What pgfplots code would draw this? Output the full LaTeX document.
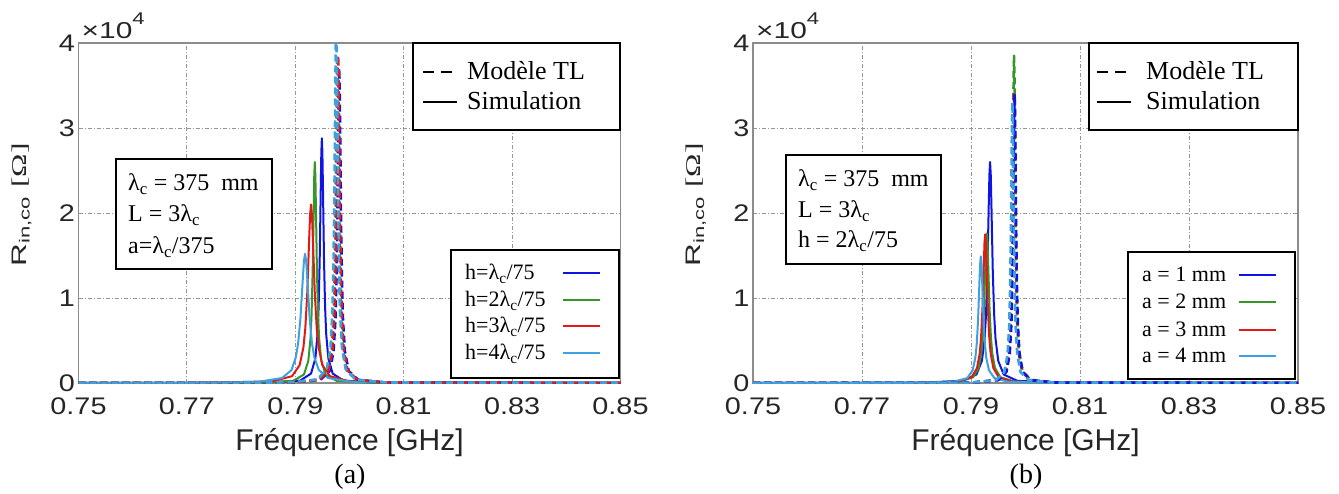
\documentclass[border=0pt]{standalone}
\usepackage{fontspec}
\usepackage{graphicx}
\usepackage{pgfplots}
\pgfplotsset{compat=1.18}
\setmainfont{Liberation Serif}
\newfontfamily\arial{Liberation Sans}
\newfontfamily\tickfont[FakeStretch=1.2]{Liberation Sans}
\newfontfamily\sclfont[FakeStretch=1.3]{Liberation Sans}
\definecolor{cB}{RGB}{15,20,225}
\definecolor{cG}{RGB}{55,150,40}
\definecolor{cR}{RGB}{225,25,25}
\definecolor{cL}{RGB}{60,160,225}
\definecolor{axg}{RGB}{140,140,140}
\definecolor{grg}{RGB}{150,150,150}
\definecolor{tkg}{RGB}{38,38,38}
\newcommand{\lc}{λ\textsubscript{c}}
\pgfplotsset{
  myaxis/.style={
    scale only axis, height=340pt, anchor=south west,
    xmin=0.75, xmax=0.85, ymin=0, ymax=40000,
    xtick={0.75,0.77,0.79,0.81,0.83,0.85},
    ytick={0,10000,20000,30000,40000},
    scaled x ticks=false,
    scaled y ticks=base 10:-4,
    x tick label style={/pgf/number format/fixed, /pgf/number format/fixed zerofill, /pgf/number format/precision=2, yshift=-11pt},
    /pgf/number format/assume math mode=true,
    tick label style={font=\tickfont\fontsize{24}{24}\selectfont, text=tkg},
    major tick length=0pt,
    grid=major,
    major grid style={grg, line width=0.9pt, dash pattern=on 4pt off 2pt on 1pt off 2pt},
    axis line style={axg, line width=1.3pt},
    ytick scale label code/.code={\sclfont\fontsize{23}{23}\selectfont ×10\raisebox{0.58em}{\fontsize{17}{17}\selectfont 4}},
    every y tick scale label/.style={at={(axis description cs:0,1)}, anchor=base west, inner sep=0pt, xshift=3pt, yshift=5pt, text=tkg},
    xlabel={Fréquence [GHz]},
    every axis x label/.style={at={(axis description cs:0.5,0)}, anchor=base, yshift=-67pt, font=\arial\fontsize{30}{30}\selectfont, text=tkg},
    ylabel={\scalebox{1.5}[1]{R\textsubscript{in,co} {\rmfamily[Ω]}}},
    every axis y label/.style={at={(axis description cs:0,0.5)}, xshift=-52.5pt, yshift=8pt, rotate=90, anchor=base, font=\arial\fontsize{21}{21}\selectfont, text=tkg},
    clip=true,
  },
  sol/.style={line width=2pt, line join=round},
  das/.style={line width=2.6pt, line join=round, dash pattern=on 7pt off 4pt},
}
\begin{document}
\begin{tikzpicture}
\useasboundingbox (0pt,0pt) rectangle (1339pt,493pt);
% ---------------- panel (a)
\begin{axis}[myaxis, width=542pt, at={(78.5pt,110pt)}]
\addplot[sol, cB] coordinates {(0.75,2) (0.7849,46) (0.7909,285) (0.7929,1108) (0.7937,2880) (0.7941,5760) (0.7943,8862) (0.7945,14400) (0.7947,23040) (0.7948,27100) (0.7949,28800) (0.795,27100) (0.7951,23040) (0.7953,14400) (0.7955,8862) (0.7957,5760) (0.7961,2880) (0.7969,1108) (0.7989,285) (0.8049,46) (0.85,2)};
\addplot[sol, cG] coordinates {(0.75,2) (0.7836,42) (0.7896,257) (0.7916,1000) (0.7924,2600) (0.7928,5200) (0.793,8000) (0.7932,13000) (0.7934,20800) (0.7935,24470) (0.7936,26000) (0.7937,24470) (0.7938,20800) (0.794,13000) (0.7942,8000) (0.7944,5200) (0.7948,2600) (0.7956,1000) (0.7976,257) (0.8036,42) (0.85,1)};
\addplot[sol, cR] coordinates {(0.75,6) (0.7754,34) (0.7859,208) (0.7894,808) (0.7908,2100) (0.7915,4200) (0.79185,6462) (0.7922,10500) (0.79255,16800) (0.792725,19765) (0.7929,21000) (0.793075,19765) (0.79325,16800) (0.7936,10500) (0.79395,6462) (0.7943,4200) (0.795,2100) (0.7964,808) (0.7999,208) (0.8104,34) (0.85,3)};
\addplot[sol, cL] coordinates {(0.75,6) (0.77055,24) (0.7833,150) (0.78755,585) (0.7893,1520) (0.7901,3040) (0.790525,4677) (0.79095,7600) (0.791375,12160) (0.791588,14306) (0.7918,15200) (0.792013,14306) (0.792225,12160) (0.79265,7600) (0.793075,4677) (0.7935,3040) (0.79435,1520) (0.79605,585) (0.8003,150) (0.81305,24) (0.85,3)};
\addplot[das, cB] coordinates {(0.75,2) (0.78935,59) (0.7946,366) (0.79635,1423) (0.79705,3700) (0.7974,7400) (0.797575,11385) (0.79775,18500) (0.797925,29600) (0.798013,34824) (0.7981,37000) (0.798188,34824) (0.798275,29600) (0.79845,18500) (0.798625,11385) (0.7988,7400) (0.79915,3700) (0.79985,1423) (0.8016,366) (0.80685,59) (0.85,2)};
\addplot[das, cG] coordinates {(0.75,2) (0.789,61) (0.79425,376) (0.796,1462) (0.7967,3800) (0.79705,7600) (0.797225,11692) (0.7974,19000) (0.797575,30400) (0.797663,35765) (0.79775,38000) (0.797838,35765) (0.797925,30400) (0.7981,19000) (0.798275,11692) (0.79845,7600) (0.7988,3800) (0.7995,1462) (0.80125,376) (0.8065,61) (0.85,2)};
\addplot[das, cR] coordinates {(0.75,2) (0.78915,62) (0.7944,381) (0.79615,1481) (0.79685,3850) (0.7972,7700) (0.797375,11846) (0.79755,19250) (0.797725,30800) (0.797813,36235) (0.7979,38500) (0.797988,36235) (0.798075,30800) (0.79825,19250) (0.798425,11846) (0.7986,7700) (0.79895,3850) (0.79965,1481) (0.8014,381) (0.80665,62) (0.85,2)};
\addplot[das, cL] coordinates {(0.75,2) (0.7888,67) (0.79405,416) (0.7958,1615) (0.7965,4200) (0.79685,8400) (0.797025,12923) (0.7972,21000) (0.797375,33600) (0.797463,39530) (0.79755,42000) (0.797638,39530) (0.797725,33600) (0.7979,21000) (0.798075,12923) (0.79825,8400) (0.7986,4200) (0.7993,1615) (0.80105,416) (0.8063,67) (0.85,2)};
\end{axis}
% ---------------- panel (b)
\begin{axis}[myaxis, width=545pt, at={(753pt,110pt)}]
\addplot[sol, cB] coordinates {(0.75,3) (0.781,42) (0.7885,257) (0.791,1000) (0.792,2600) (0.7925,5200) (0.79275,8000) (0.793,13000) (0.79325,20800) (0.793375,24470) (0.7935,26000) (0.793625,24470) (0.79375,20800) (0.794,13000) (0.79425,8000) (0.7945,5200) (0.795,2600) (0.796,1000) (0.7985,257) (0.806,42) (0.85,2)};
\addplot[sol, cG] coordinates {(0.75,2) (0.7804,28) (0.7879,174) (0.7904,677) (0.7914,1760) (0.7919,3520) (0.79215,5415) (0.7924,8800) (0.79265,14080) (0.792775,16565) (0.7929,17600) (0.793025,16565) (0.79315,14080) (0.7934,8800) (0.79365,5415) (0.7939,3520) (0.7944,1760) (0.7954,677) (0.7979,174) (0.8054,28) (0.85,1)};
\addplot[sol, cR] coordinates {(0.75,2) (0.7801,28) (0.7876,173) (0.7901,673) (0.7911,1750) (0.7916,3500) (0.79185,5385) (0.7921,8750) (0.79235,14000) (0.792475,16471) (0.7926,17500) (0.792725,16471) (0.79285,14000) (0.7931,8750) (0.79335,5385) (0.7936,3500) (0.7941,1750) (0.7951,673) (0.7976,173) (0.8051,28) (0.85,1)};
\addplot[sol, cL] coordinates {(0.75,2) (0.7793,24) (0.7868,148) (0.7893,573) (0.7903,1490) (0.7908,2980) (0.79105,4585) (0.7913,7450) (0.79155,11920) (0.791675,14024) (0.7918,14900) (0.791925,14024) (0.79205,11920) (0.7923,7450) (0.79255,4585) (0.7928,2980) (0.7933,1490) (0.7943,573) (0.7968,148) (0.8043,24) (0.85,1)};
\addplot[das, cG] coordinates {(0.75,2) (0.7904,62) (0.7949,381) (0.7964,1481) (0.797,3850) (0.7973,7700) (0.79745,11846) (0.7976,19250) (0.79775,30800) (0.797825,36235) (0.7979,38500) (0.797975,36235) (0.79805,30800) (0.7982,19250) (0.79835,11846) (0.7985,7700) (0.7988,3850) (0.7994,1481) (0.8009,381) (0.8054,62) (0.85,1)};
\addplot[das, cR] coordinates {(0.75,2) (0.7904,55) (0.7949,337) (0.7964,1308) (0.797,3400) (0.7973,6800) (0.79745,10462) (0.7976,17000) (0.79775,27200) (0.797825,32000) (0.7979,34000) (0.797975,32000) (0.79805,27200) (0.7982,17000) (0.79835,10462) (0.7985,6800) (0.7988,3400) (0.7994,1308) (0.8009,337) (0.8054,55) (0.85,1)};
\addplot[das, cB] coordinates {(0.75,2) (0.7905,55) (0.795,337) (0.7965,1308) (0.7971,3400) (0.7974,6800) (0.79755,10462) (0.7977,17000) (0.79785,27200) (0.797925,32000) (0.798,34000) (0.798075,32000) (0.79815,27200) (0.7983,17000) (0.79845,10462) (0.7986,6800) (0.7989,3400) (0.7995,1308) (0.801,337) (0.8055,55) (0.85,1)};
\addplot[das, cL] coordinates {(0.75,2) (0.7901,53) (0.7946,327) (0.7961,1269) (0.7967,3300) (0.797,6600) (0.79715,10154) (0.7973,16500) (0.79745,26400) (0.797525,31059) (0.7976,33000) (0.797675,31059) (0.79775,26400) (0.7979,16500) (0.79805,10154) (0.7982,6600) (0.7985,3300) (0.7991,1269) (0.8006,327) (0.8051,53) (0.85,1)};
\end{axis}
\begin{scope}[x=1pt, y=1pt, every node/.style={anchor=base west, inner sep=0pt}]
% ---------------- annotations (a)
\filldraw[fill=white, draw=black, line width=1.5pt] (413,450) rectangle (620,363);
\draw[line width=2.6pt, dash pattern=on 11pt off 7pt] (423,421) -- (457,421);
\draw[line width=2.6pt] (423,391) -- (457,391);
\node[font=\fontsize{26}{30}\selectfont] at (467,413) {Modèle TL};
\node[font=\fontsize{26}{30}\selectfont] at (467,383) {Simulation};
\filldraw[fill=white, draw=black, line width=1.5pt] (116,334) rectangle (272,224);
\node[font=\fontsize{24}{30}\selectfont] at (128,302) {\lc{} = 375~~mm};
\node[font=\fontsize{24}{30}\selectfont] at (128,271) {L = 3\lc};
\node[font=\fontsize{24}{30}\selectfont] at (128,239) {a=\lc/375};
\filldraw[fill=white, draw=black, line width=1.5pt] (451,243) rectangle (619,115);
\node[font=\fontsize{22}{26}\selectfont] at (465,213) {h=\lc/75};
\node[font=\fontsize{22}{26}\selectfont] at (465,186) {h=2\lc/75};
\node[font=\fontsize{22}{26}\selectfont] at (465,160) {h=3\lc/75};
\node[font=\fontsize{22}{26}\selectfont] at (465,133) {h=4\lc/75};
\draw[cB, line width=2.5pt] (563,220) -- (600,220);
\draw[cG, line width=2.5pt] (563,193) -- (600,193);
\draw[cR, line width=2.5pt] (563,167) -- (600,167);
\draw[cL, line width=2.5pt] (563,140) -- (600,140);
% ---------------- annotations (b)
\filldraw[fill=white, draw=black, line width=1.5pt] (1089,450) rectangle (1298,363);
\draw[line width=2.6pt, dash pattern=on 11pt off 7pt] (1097,421) -- (1131,421);
\draw[line width=2.6pt] (1097,391) -- (1131,391);
\node[font=\fontsize{26}{30}\selectfont] at (1146,413) {Modèle TL};
\node[font=\fontsize{26}{30}\selectfont] at (1146,383) {Simulation};
\filldraw[fill=white, draw=black, line width=1.5pt] (786,338) rectangle (941,229);
\node[font=\fontsize{24}{30}\selectfont] at (798,306) {\lc{} = 375~~mm};
\node[font=\fontsize{24}{30}\selectfont] at (798,275) {L = 3\lc};
\node[font=\fontsize{24}{30}\selectfont] at (798,245) {h = 2\lc/75};
\filldraw[fill=white, draw=black, line width=1.5pt] (1128,241) rectangle (1295,114);
\node[font=\fontsize{22}{26}\selectfont] at (1142,211) {a = 1 mm};
\node[font=\fontsize{22}{26}\selectfont] at (1142,184) {a = 2 mm};
\node[font=\fontsize{22}{26}\selectfont] at (1142,156) {a = 3 mm};
\node[font=\fontsize{22}{26}\selectfont] at (1142,130) {a = 4 mm};
\draw[cB, line width=2.5pt] (1239,218) -- (1276,218);
\draw[cG, line width=2.5pt] (1239,191) -- (1276,191);
\draw[cR, line width=2.5pt] (1239,163) -- (1276,163);
\draw[cL, line width=2.5pt] (1239,137) -- (1276,137);
\node[anchor=base, font=\fontsize{28}{32}\selectfont] at (350,10) {(a)};
\node[anchor=base, font=\fontsize{28}{32}\selectfont] at (1026,10) {(b)};
\end{scope}
\end{tikzpicture}
\end{document}
